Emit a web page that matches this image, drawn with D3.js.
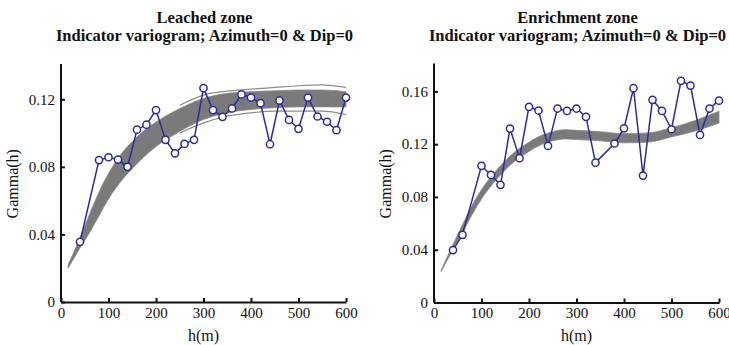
<!DOCTYPE html>
<html>
<head>
<meta charset="utf-8">
<script src="https://cdn.jsdelivr.net/npm/d3@7"></script>
<style>
  html, body { margin: 0; padding: 0; background: #fff; }
  svg text { font-family: "Liberation Serif", "Times New Roman", serif; fill: #111; }
</style>
</head>
<body>
<div id="chart"></div>
<script>
// experimental variogram lags and values
const leachedLags = [40, 80, 100, 120, 140, 160, 180, 200, 220, 240, 260, 280, 300, 320,
  340, 360, 380, 400, 420, 440, 460, 480, 500, 520, 540, 560, 580, 600];
const leachedGamma = [0.0356, 0.084, 0.0857, 0.0843, 0.080, 0.102, 0.105, 0.1136, 0.096, 0.088,
  0.0936, 0.096, 0.1266, 0.1136, 0.1096, 0.1146, 0.1229, 0.121, 0.1177, 0.0934, 0.1193,
  0.1078, 0.1025, 0.121, 0.1098, 0.1067, 0.1017, 0.121];

const enrichLags = [40, 60, 100, 120, 140, 160, 180, 200, 220, 240, 260, 280, 300, 320, 340,
  380, 400, 420, 440, 460, 480, 500, 520, 540, 560, 580, 600];
const enrichGamma = [0.0397, 0.0513, 0.1036, 0.0967, 0.0892, 0.1318, 0.1094, 0.1483, 0.1455,
  0.1187, 0.147, 0.1452, 0.147, 0.1407, 0.106, 0.1205, 0.132, 0.1624, 0.0962, 0.1536,
  0.1452, 0.1313, 0.168, 0.1644, 0.127, 0.147, 0.153];

// envelope of simulated variograms (grey band)
const leachedBandH = [15, 40, 60, 80, 100, 125, 150, 175, 200, 250, 300, 350, 400, 450, 500, 550, 600];
const leachedBandLow = [0.020, 0.032, 0.041, 0.051, 0.061, 0.071, 0.079, 0.086, 0.092, 0.101,
  0.108, 0.112, 0.114, 0.115, 0.1155, 0.1155, 0.1155];
const leachedBandHigh = [0.022, 0.038, 0.052, 0.065, 0.076, 0.087, 0.095, 0.1015, 0.1065, 0.1145,
  0.1205, 0.1235, 0.1245, 0.125, 0.1255, 0.1255, 0.1245];
// stray realisations outside the main band
const leachedStrayH = [250, 300, 350, 400, 450, 500, 550, 600];
const leachedStrayHigh = [0.1165, 0.1225, 0.1248, 0.126, 0.127, 0.128, 0.1285, 0.127];
const leachedStrayLow = [0.100, 0.106, 0.110, 0.112, 0.113, 0.113, 0.113, 0.111];

const enrichBandH = [15, 40, 60, 80, 100, 125, 150, 175, 200, 225, 250, 275, 300, 350, 400, 450, 500, 550, 600];
const enrichBandLow = [0.0235, 0.040, 0.053, 0.0665, 0.0785, 0.0905, 0.1005, 0.1085, 0.1145,
  0.1195, 0.1225, 0.124, 0.1235, 0.1225, 0.121, 0.1215, 0.1255, 0.130, 0.136];
const enrichBandHigh = [0.0245, 0.044, 0.059, 0.0735, 0.0855, 0.0975, 0.1075, 0.1155, 0.1215,
  0.1265, 0.1295, 0.131, 0.1305, 0.1295, 0.128, 0.1285, 0.1325, 0.138, 0.145];

const xTicks = [0, 100, 200, 300, 400, 500, 600];

const width = 729;
const height = 345;

const svg = d3.select('#chart')
  .append('svg')
  .attr('width', width)
  .attr('height', height);

function drawPanel(opts) {
  const { left, right, top, bottom, yMax, yTicks, title, lags, gamma, bandH, bandLow, bandHigh, strays } = opts;

  const x = d3.scaleLinear().domain([0, 600]).range([left, right]);
  const y = d3.scaleLinear().domain([0, yMax]).range([bottom, top]);

  const g = svg.append('g');

  // band
  const band = bandH.map((h, i) => ({ h, lo: bandLow[i], hi: bandHigh[i] }));
  g.append('path')
    .datum(band)
    .attr('fill', '#7a7a7a')
    .attr('stroke', '#8a8a8a')
    .attr('stroke-width', 0.8)
    .attr('d', d3.area()
      .x(d => x(d.h))
      .y0(d => y(d.lo))
      .y1(d => y(d.hi))
      .curve(d3.curveMonotoneX));

  (strays || []).forEach(s => {
    g.append('path')
      .datum(s.h.map((h, i) => [h, s.v[i]]))
      .attr('fill', 'none')
      .attr('stroke', '#8c8c8c')
      .attr('stroke-width', 1.2)
      .attr('d', d3.line().x(d => x(d[0])).y(d => y(d[1])).curve(d3.curveMonotoneX));
  });

  // experimental variogram
  const pts = lags.map((h, i) => [h, gamma[i]]);
  g.append('path')
    .datum(pts)
    .attr('fill', 'none')
    .attr('stroke', '#2a2aa3')
    .attr('stroke-width', 1.5)
    .attr('d', d3.line().x(d => x(d[0])).y(d => y(d[1])));

  g.selectAll('.dot')
    .data(pts)
    .enter()
    .append('circle')
    .attr('cx', d => x(d[0]))
    .attr('cy', d => y(d[1]))
    .attr('r', 3.6)
    .attr('fill', '#fff')
    .attr('stroke', '#2a2aa3')
    .attr('stroke-width', 1.5);

  // axes
  const xAxis = g.append('g')
    .attr('transform', `translate(0,${bottom})`)
    .call(d3.axisBottom(x).tickValues(xTicks).tickSizeInner(-4).tickSizeOuter(0).tickPadding(5));
  xAxis.select('.domain').attr('stroke', '#111').attr('stroke-width', 2);
  xAxis.selectAll('.tick line').attr('stroke', '#111').attr('stroke-width', 2);
  xAxis.selectAll('text').style('font-size', '15px').style('font-family', '"Liberation Serif", serif').attr('fill', '#111');

  const yAxis = g.append('g')
    .attr('transform', `translate(${left},0)`)
    .call(d3.axisLeft(y).tickValues(yTicks).tickSizeInner(-4).tickSizeOuter(0).tickPadding(6)
      .tickFormat(d => d === 0 ? '0' : d3.format('.2f')(d)));
  yAxis.select('.domain').attr('stroke', '#111').attr('stroke-width', 2)
    .attr('d', `M0,${bottom}V${top - 1.5}`);
  yAxis.selectAll('.tick line').attr('stroke', '#111').attr('stroke-width', 2);
  yAxis.selectAll('text').style('font-size', '15px').style('font-family', '"Liberation Serif", serif').attr('fill', '#111');

  const cx = (left + right) / 2;
  g.append('text')
    .attr('x', cx)
    .attr('y', 341)
    .attr('text-anchor', 'middle')
    .style('font-size', '16px')
    .text('h(m)');

  g.append('text')
    .attr('transform', `translate(${left - 43},${(top + bottom) / 2}) rotate(-90)`)
    .attr('text-anchor', 'middle')
    .style('font-size', '16px')
    .text('Gamma(h)');

  g.append('text')
    .attr('x', cx + 1)
    .attr('y', 23)
    .attr('text-anchor', 'middle')
    .style('font-size', '16.5px')
    .style('font-weight', 'bold')
    .text(title[0]);
  g.append('text')
    .attr('x', cx + 1)
    .attr('y', 41)
    .attr('text-anchor', 'middle')
    .style('font-size', '16.5px')
    .style('font-weight', 'bold')
    .text(title[1]);
}

drawPanel({
  left: 61, right: 346, top: 65.5, bottom: 302,
  yMax: 0.14, yTicks: [0, 0.04, 0.08, 0.12],
  title: ['Leached zone', 'Indicator variogram; Azimuth=0 & Dip=0'],
  lags: leachedLags, gamma: leachedGamma,
  bandH: leachedBandH, bandLow: leachedBandLow, bandHigh: leachedBandHigh,
  strays: [
    { h: leachedStrayH, v: leachedStrayHigh },
    { h: leachedStrayH, v: leachedStrayLow }
  ]
});

drawPanel({
  left: 434, right: 719, top: 65, bottom: 302.5,
  yMax: 0.18, yTicks: [0, 0.04, 0.08, 0.12, 0.16],
  title: ['Enrichment zone', 'Indicator variogram; Azimuth=0 & Dip=0'],
  lags: enrichLags, gamma: enrichGamma,
  bandH: enrichBandH, bandLow: enrichBandLow, bandHigh: enrichBandHigh,
  strays: []
});
</script>
</body>
</html>
